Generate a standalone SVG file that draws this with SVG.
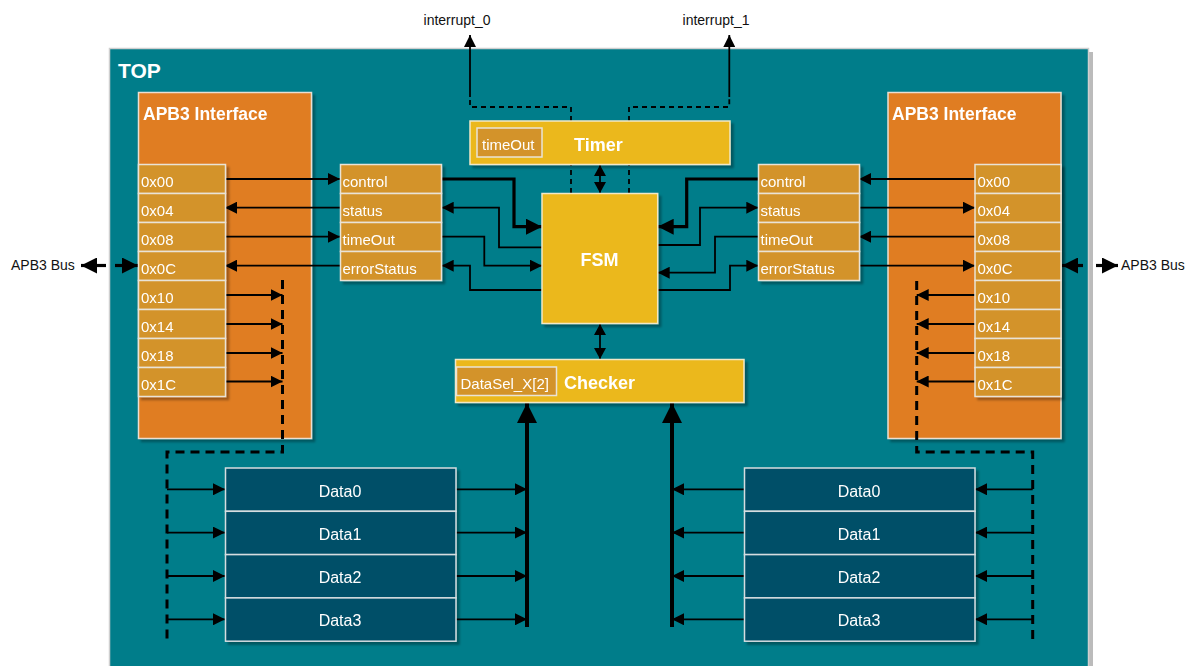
<svg xmlns="http://www.w3.org/2000/svg" width="1188" height="666" viewBox="0 0 1188 666">
  <style>
    .top { fill:#007D8A; stroke:#CFCFCF; stroke-width:1.5 }
    .apb { fill:#E07D23; stroke:#EADFD2; stroke-width:1.5 }
    .reg { fill:#D3932A; stroke:#E9E3D6; stroke-width:1.5 }
    .yel { fill:#EBB81C; stroke:#F2E8C6; stroke-width:1.5 }
    .dat { fill:#044F67; stroke:#D6DDE0; stroke-width:1.5 }
    .t { font-family:"Liberation Sans", Arial, sans-serif; fill:#FFFFFF; font-size:15px }
    .b { font-weight:bold }
    .c { text-anchor:middle }
    .lbl { font-family:"Liberation Sans", Arial, sans-serif; fill:#111111; font-size:14px }
    .ln { fill:none; stroke:#000000; stroke-width:1.8 }
    .thk { stroke-width:3.2 }
    .big { stroke-width:4 }
    .dsh { stroke-width:3; stroke-dasharray:9 6 }
    .dsh2 { stroke-width:1.8; stroke-dasharray:5 4 }
  </style>
  <defs>
    <filter id="sh" x="-10%" y="-10%" width="130%" height="130%">
      <feDropShadow dx="3" dy="3" stdDeviation="0.8" flood-color="#000000" flood-opacity="0.3"/>
    </filter>
    <marker id="a" viewBox="0 0 12 12" markerWidth="12" markerHeight="12" refX="12" refY="6" orient="auto-start-reverse" markerUnits="userSpaceOnUse">
      <path d="M0,0 L12,6 L0,12 z" fill="#000"/>
    </marker>
    <marker id="as" viewBox="0 0 11 12" markerWidth="11" markerHeight="12" refX="11" refY="6" orient="auto-start-reverse" markerUnits="userSpaceOnUse">
      <path d="M0,0 L11,6 L0,12 z" fill="#000"/>
    </marker>
    <marker id="at" viewBox="0 0 16 16" markerWidth="16" markerHeight="16" refX="16" refY="8" orient="auto-start-reverse" markerUnits="userSpaceOnUse">
      <path d="M0,0 L16,8 L0,16 z" fill="#000"/>
    </marker>
    <marker id="ab" viewBox="0 0 20 20" markerWidth="20" markerHeight="20" refX="20" refY="10" orient="auto-start-reverse" markerUnits="userSpaceOnUse">
      <path d="M0,0 L20,10 L0,20 z" fill="#000"/>
    </marker>
  </defs>

  <rect width="1188" height="666" fill="#FFFFFF"/>

  <!-- outer TOP block -->
  <g id="top">
    <rect x="113" y="52" width="980" height="640" fill="#BBBBBB"/>
    <rect class="top" x="109.5" y="48.5" width="979" height="640"/>
    <text class="t b" x="118" y="78" style="font-size:21px">TOP</text>
  </g>

  <!-- APB3 interface blocks -->
  <g id="apb3-left" filter="url(#sh)">
    <rect class="apb" x="138.5" y="92.5" width="173" height="346"/>
    <text class="t b" x="143" y="120" style="font-size:17.5px">APB3 Interface</text>
  </g>
  <g id="apb3-right" filter="url(#sh)">
    <rect class="apb" x="888" y="92.5" width="173" height="346"/>
    <text class="t b" x="892" y="120" style="font-size:17.5px">APB3 Interface</text>
  </g>

  <!-- connectors -->
  <g id="connectors">
    <!-- left register file to control registers -->
    <path class="ln" d="M225,179 H340" marker-end="url(#a)"/>
    <path class="ln" d="M340,207.7 H225" marker-end="url(#a)"/>
    <path class="ln" d="M225,236.7 H340" marker-end="url(#a)"/>
    <path class="ln" d="M340,265.7 H225" marker-end="url(#a)"/>
    <!-- left data selects -->
    <path class="ln" d="M225,295 H282.5" marker-end="url(#a)"/>
    <path class="ln" d="M225,324 H282.5" marker-end="url(#a)"/>
    <path class="ln" d="M225,353 H282.5" marker-end="url(#a)"/>
    <path class="ln" d="M225,381.5 H282.5" marker-end="url(#a)"/>
    <path class="ln dsh" d="M282.5,280 V452 H167 V641"/>
    <path class="ln" d="M167,489.3 H225" marker-end="url(#a)"/>
    <path class="ln" d="M167,532.6 H225" marker-end="url(#a)"/>
    <path class="ln" d="M167,576 H225" marker-end="url(#a)"/>
    <path class="ln" d="M167,619.3 H225" marker-end="url(#a)"/>
    <path class="ln" d="M456,489.3 H527" marker-end="url(#a)"/>
    <path class="ln" d="M456,532.6 H527" marker-end="url(#a)"/>
    <path class="ln" d="M456,576 H527" marker-end="url(#a)"/>
    <path class="ln" d="M456,619.3 H527" marker-end="url(#a)"/>
    <path class="ln big" d="M527,627 V403" marker-end="url(#ab)"/>

    <!-- right data selects -->
    <path class="ln big" d="M672,627 V403" marker-end="url(#ab)"/>
    <path class="ln" d="M744,489.3 H672" marker-end="url(#a)"/>
    <path class="ln" d="M744,532.6 H672" marker-end="url(#a)"/>
    <path class="ln" d="M744,576 H672" marker-end="url(#a)"/>
    <path class="ln" d="M744,619.3 H672" marker-end="url(#a)"/>
    <path class="ln" d="M1032.7,489.3 H975" marker-end="url(#a)"/>
    <path class="ln" d="M1032.7,532.6 H975" marker-end="url(#a)"/>
    <path class="ln" d="M1032.7,576 H975" marker-end="url(#a)"/>
    <path class="ln" d="M1032.7,619.3 H975" marker-end="url(#a)"/>
    <path class="ln dsh" d="M916.7,281 V452 H1032.7 V641"/>
    <path class="ln" d="M975,295 H916.7" marker-end="url(#a)"/>
    <path class="ln" d="M975,324 H916.7" marker-end="url(#a)"/>
    <path class="ln" d="M975,353 H916.7" marker-end="url(#a)"/>
    <path class="ln" d="M975,381.5 H916.7" marker-end="url(#a)"/>

    <!-- right register file to control registers -->
    <path class="ln" d="M975,179 H859" marker-end="url(#a)"/>
    <path class="ln" d="M859,207.7 H975" marker-end="url(#a)"/>
    <path class="ln" d="M975,236.7 H859" marker-end="url(#a)"/>
    <path class="ln" d="M859,265.7 H975" marker-end="url(#a)"/>

    <!-- control registers to FSM, left -->
    <path class="ln thk" d="M441.7,179 H514 V226.7 H542" marker-end="url(#at)"/>
    <path class="ln" d="M542,247.3 H499 V207.7 H441.7" marker-end="url(#a)"/>
    <path class="ln" d="M441.7,236.7 H484.3 V265.7 H542" marker-end="url(#a)"/>
    <path class="ln" d="M542,290 H470 V265.7 H441.7" marker-end="url(#a)"/>

    <!-- control registers to FSM, right -->
    <path class="ln thk" d="M758.3,179 H686.7 V226.7 H657.7" marker-end="url(#at)"/>
    <path class="ln" d="M657.7,245 H700 V207.7 H758.3" marker-end="url(#a)"/>
    <path class="ln" d="M758.3,236.7 H715 V272.7 H657.7" marker-end="url(#a)"/>
    <path class="ln" d="M657.7,290 H730 V265.7 H758.3" marker-end="url(#a)"/>

    <!-- Timer / FSM / Checker links -->
    <path class="ln" d="M600,165 V193" marker-start="url(#as)" marker-end="url(#as)"/>
    <path class="ln" d="M600,324 V359" marker-start="url(#as)" marker-end="url(#as)"/>

    <!-- interrupts -->
    <path class="ln dsh2" d="M571,193 V107 H470 V97"/>
    <path class="ln dsh2" d="M629,193 V107 H729.3 V97"/>
    <path class="ln" d="M470,97 V35" marker-end="url(#a)"/>
    <path class="ln" d="M729.3,97 V35" marker-end="url(#a)"/>

    <!-- APB3 bus ports -->
    <path class="ln thk" d="M106,265.5 H81" marker-end="url(#at)"/>
    <path class="ln thk" d="M115,265.5 H138" marker-end="url(#at)"/>
    <path class="ln thk" d="M1083,265.5 H1062" marker-end="url(#at)"/>
    <path class="ln thk" d="M1096,265.5 H1118" marker-end="url(#at)"/>
  </g>

  <!-- port labels -->
  <g id="labels">
    <text class="lbl" x="457" y="25" text-anchor="middle">interrupt_0</text>
    <text class="lbl" x="716" y="25" text-anchor="middle">interrupt_1</text>
    <text class="lbl" x="11" y="270">APB3 Bus</text>
    <text class="lbl" x="1121" y="270">APB3 Bus</text>
  </g>

  <!-- left register file -->
  <g id="regs-left" filter="url(#sh)">
    <rect class="reg" x="138.5" y="164.5" width="87" height="29"/>
    <rect class="reg" x="138.5" y="193.5" width="87" height="29"/>
    <rect class="reg" x="138.5" y="222.5" width="87" height="29"/>
    <rect class="reg" x="138.5" y="251.5" width="87" height="29"/>
    <rect class="reg" x="138.5" y="280.5" width="87" height="29"/>
    <rect class="reg" x="138.5" y="309.5" width="87" height="29"/>
    <rect class="reg" x="138.5" y="338.5" width="87" height="29"/>
    <rect class="reg" x="138.5" y="367.5" width="87" height="29"/>
    <text class="t" x="141" y="186.5">0x00</text>
    <text class="t" x="141" y="215.5">0x04</text>
    <text class="t" x="141" y="244.5">0x08</text>
    <text class="t" x="141" y="273.5">0x0C</text>
    <text class="t" x="141" y="302.5">0x10</text>
    <text class="t" x="141" y="331.5">0x14</text>
    <text class="t" x="141" y="360.5">0x18</text>
    <text class="t" x="141" y="389.5">0x1C</text>
  </g>

  <!-- right register file -->
  <g id="regs-right" filter="url(#sh)">
    <rect class="reg" x="975" y="164.5" width="86" height="29"/>
    <rect class="reg" x="975" y="193.5" width="86" height="29"/>
    <rect class="reg" x="975" y="222.5" width="86" height="29"/>
    <rect class="reg" x="975" y="251.5" width="86" height="29"/>
    <rect class="reg" x="975" y="280.5" width="86" height="29"/>
    <rect class="reg" x="975" y="309.5" width="86" height="29"/>
    <rect class="reg" x="975" y="338.5" width="86" height="29"/>
    <rect class="reg" x="975" y="367.5" width="86" height="29"/>
    <text class="t" x="977.5" y="186.5">0x00</text>
    <text class="t" x="977.5" y="215.5">0x04</text>
    <text class="t" x="977.5" y="244.5">0x08</text>
    <text class="t" x="977.5" y="273.5">0x0C</text>
    <text class="t" x="977.5" y="302.5">0x10</text>
    <text class="t" x="977.5" y="331.5">0x14</text>
    <text class="t" x="977.5" y="360.5">0x18</text>
    <text class="t" x="977.5" y="389.5">0x1C</text>
  </g>

  <!-- control registers -->
  <g id="ctrl-left" filter="url(#sh)">
    <rect class="reg" x="340.5" y="164.5" width="101" height="29"/>
    <rect class="reg" x="340.5" y="193.5" width="101" height="29"/>
    <rect class="reg" x="340.5" y="222.5" width="101" height="29"/>
    <rect class="reg" x="340.5" y="251.5" width="101" height="29"/>
    <text class="t" x="342.5" y="186.5">control</text>
    <text class="t" x="342.5" y="215.5">status</text>
    <text class="t" x="342.5" y="244.5">timeOut</text>
    <text class="t" x="342.5" y="273.5">errorStatus</text>
  </g>
  <g id="ctrl-right" filter="url(#sh)">
    <rect class="reg" x="758.5" y="164.5" width="101" height="29"/>
    <rect class="reg" x="758.5" y="193.5" width="101" height="29"/>
    <rect class="reg" x="758.5" y="222.5" width="101" height="29"/>
    <rect class="reg" x="758.5" y="251.5" width="101" height="29"/>
    <text class="t" x="760.5" y="186.5">control</text>
    <text class="t" x="760.5" y="215.5">status</text>
    <text class="t" x="760.5" y="244.5">timeOut</text>
    <text class="t" x="760.5" y="273.5">errorStatus</text>
  </g>

  <!-- Timer -->
  <g id="timer" filter="url(#sh)">
    <rect class="yel" x="470" y="121" width="260" height="43.5"/>
    <rect class="reg" x="477" y="128" width="65" height="29"/>
    <text class="t" x="482" y="150">timeOut</text>
    <text class="t b" x="574" y="150.5" style="font-size:18px">Timer</text>
  </g>

  <!-- FSM -->
  <g id="fsm" filter="url(#sh)">
    <rect class="yel" x="542" y="193.5" width="115.7" height="130"/>
    <text class="t b c" x="599.5" y="265.5" style="font-size:18px">FSM</text>
  </g>

  <!-- Checker -->
  <g id="checker" filter="url(#sh)">
    <rect class="yel" x="455.5" y="359.5" width="288.5" height="43"/>
    <rect class="reg" x="456.5" y="367" width="100" height="28.5"/>
    <text class="t" x="460.5" y="389">DataSel_X[2]</text>
    <text class="t b" x="564" y="389" style="font-size:18px">Checker</text>
  </g>

  <!-- data registers -->
  <g id="data-left" filter="url(#sh)">
    <rect class="dat" x="225.5" y="468" width="230.5" height="43.3"/>
    <rect class="dat" x="225.5" y="511.3" width="230.5" height="43.3"/>
    <rect class="dat" x="225.5" y="554.6" width="230.5" height="43.3"/>
    <rect class="dat" x="225.5" y="597.9" width="230.5" height="43.3"/>
    <text class="t c" x="340" y="496.5" style="font-size:16px">Data0</text>
    <text class="t c" x="340" y="539.8" style="font-size:16px">Data1</text>
    <text class="t c" x="340" y="583.1" style="font-size:16px">Data2</text>
    <text class="t c" x="340" y="626.4" style="font-size:16px">Data3</text>
  </g>
  <g id="data-right" filter="url(#sh)">
    <rect class="dat" x="744.5" y="468" width="230.5" height="43.3"/>
    <rect class="dat" x="744.5" y="511.3" width="230.5" height="43.3"/>
    <rect class="dat" x="744.5" y="554.6" width="230.5" height="43.3"/>
    <rect class="dat" x="744.5" y="597.9" width="230.5" height="43.3"/>
    <text class="t c" x="859" y="496.5" style="font-size:16px">Data0</text>
    <text class="t c" x="859" y="539.8" style="font-size:16px">Data1</text>
    <text class="t c" x="859" y="583.1" style="font-size:16px">Data2</text>
    <text class="t c" x="859" y="626.4" style="font-size:16px">Data3</text>
  </g>
</svg>
